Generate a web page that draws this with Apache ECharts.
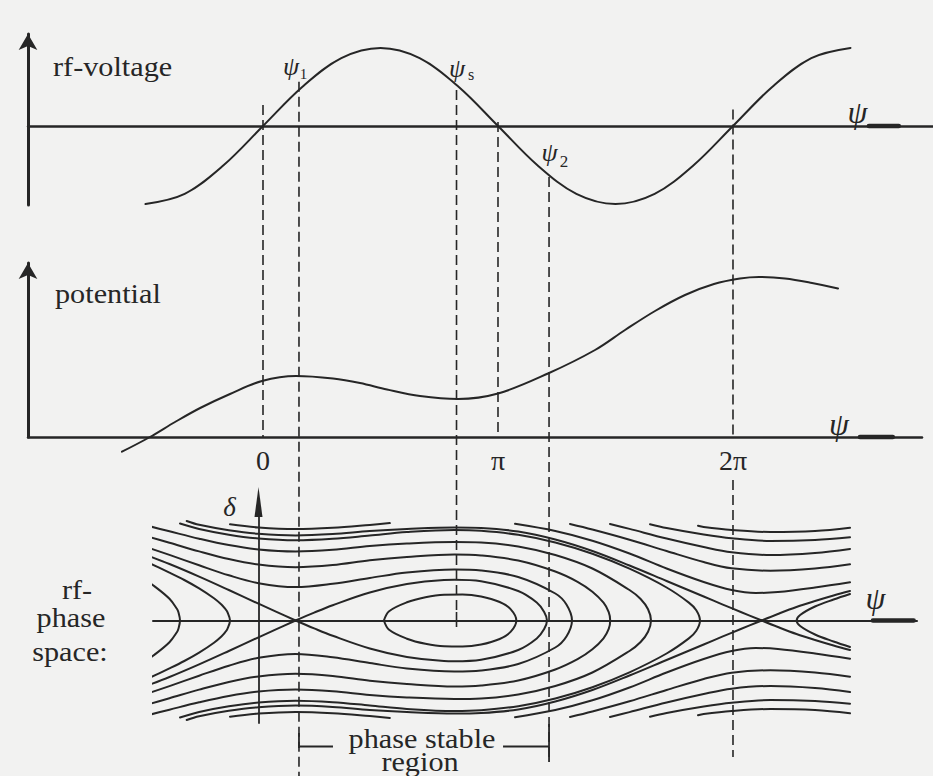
<!DOCTYPE html>
<html><head><meta charset="utf-8">
<script src="https://cdn.jsdelivr.net/npm/echarts@6/dist/echarts.min.js"></script>
<style>html,body{margin:0;padding:0;background:#f2f2f1;}#c{width:933px;height:776px;}</style>
</head><body><div id="c"></div>
<script>
// ---------------- data ----------------
// rf-voltage panel (psi in rad, voltage in units of the peak value)
const rfPsi  = [-1.571,-1.047,-0.524,0,0.524,1.047,1.571,2.094,2.618,3.142,3.665,4.189,4.712,5.236,5.760,6.283,6.807,7.330,7.854];
const rfVolt = [-1,-0.87,-0.5,0,0.5,0.87,1,0.87,0.5,0,-0.5,-0.87,-1,-0.87,-0.5,0,0.5,0.87,1];
// potential panel (arbitrary units)
const potPsi = [-1.885,-1.511,-1.176,-0.840,-0.441,-0.013,0.441,0.936,1.297,1.658,2.099,2.607,3.142,3.810,4.439,4.840,5.241,5.642,6.029,6.377,6.631,6.979,7.340,7.687];
const potVal = [-1.47,0.0,1.5,2.9,4.3,5.6,6.1,5.85,5.4,4.75,4.1,3.8,4.35,6.35,8.7,10.7,12.6,14.2,15.3,15.85,16.0,15.85,15.4,14.85];
// axis tick labels of the potential panel
const tickPsi = [0, 3.1416, 6.2832];
const tickLabels = ['0', 'π', '2π'];
// special phases marked by the dashed guide lines
const guidePsi = [0, 0.481, 2.587, 3.1416, 3.824, 6.2832]; // 0, psi1, psis, pi, psi2, 2pi

// rf-phase space trajectories [psi, delta] -- upper halves (lower halves are their mirror images)
const innerOrbit = [[1.69,0],[1.76,0.93],[2.0,1.82],[2.25,2.33],[2.5,2.58],[2.75,2.6],[3.0,2.4],[3.25,1.85],[3.4,1.12],[3.475,0]];
const sepLoop    = [[0.5,0],[0.75,0.79],[1.0,1.53],[1.5,2.8],[2.0,3.65],[2.5,4.05],[2.64,4.07],[3.0,3.92],[3.5,2.95],[3.75,1.8],[3.85,0.86],[3.888,0]];
const sepLeft    = [[-1.557,6.66],[-1.2,5.65],[-0.8,4.39],[-0.4,3.05],[0,1.68],[0.25,0.83],[0.5,0]];
const hookA      = [[-1.557,4.2],[-1.4,3.41],[-1.2,2.17],[-1.1,1.17],[-1.08,0.85],[-1.058,0]];
const hookB      = [[-1.557,6.05],[-1.2,4.79],[-1.0,4.05],[-0.8,3.21],[-0.6,2.22],[-0.5,1.59],[-0.45,1.18],[-0.42,0.87],[-0.384,0]];
const reflectE   = [[-1.557,7.45],[-1.2,6.56],[-0.8,5.52],[-0.4,4.52],[0,3.73],[0.5,3.34],[1.0,3.67],[1.5,4.25],[2.0,4.8],[2.64,5.1],[3.0,5.0],[3.5,4.35],[4.0,2.7],[4.15,1.6],[4.225,0]];
const reflectD   = [[-1.557,8.53],[-1.2,7.77],[-0.8,6.91],[-0.4,6.14],[0,5.59],[0.5,5.33],[1.0,5.54],[1.5,6.02],[2.0,6.35],[2.64,6.6],[3.0,6.5],[3.5,6.0],[4.0,4.9],[4.3,3.87],[4.5,2.88],[4.65,1.78],[4.72,0.84],[4.74,0]];
const reflectC   = [[-1.557,9.59],[-1.2,8.92],[-0.8,8.18],[-0.4,7.54],[0,7.1],[0.5,6.9],[1.0,7.07],[1.5,7.45],[2.0,7.7],[2.64,7.85],[3.0,7.8],[3.5,7.4],[4.0,6.55],[4.5,5.2],[5.0,3.05],[5.15,2.15],[5.25,1.12],[5.29,0]];
const reflectB   = [[-1.058,9.7],[-0.8,9.15],[-0.4,8.58],[0,8.2],[0.5,8.02],[1.0,8.17],[1.5,8.5],[2.0,8.84],[2.64,9.05],[3.0,8.97],[3.5,8.57],[4.0,7.8],[4.5,6.67],[5.0,5.18],[5.5,3.3],[5.8,1.79],[5.9,1.03],[5.95,0]];
const sepX2Left  = [[-0.968,9.95],[-0.8,9.57],[-0.4,9.03],[0,8.67],[0.5,8.5],[1.0,8.64],[1.5,8.95],[2.0,9.15],[2.64,9.3],[3.0,9.25],[3.5,8.9],[4.0,8.1],[4.5,6.95],[5.0,5.5],[5.5,3.95],[6.0,2.4],[6.25,1.62],[6.5,0.85],[6.783,0]];
const sepX2Right = [[6.783,0],[7.0,0.65],[7.25,1.35],[7.5,1.95],[7.75,2.5],[7.972,2.95]];
const hookRight  = [[7.972,2.65],[7.75,2.1],[7.5,1.4],[7.3,0.55],[7.253,0]];
const topArc     = [[-0.384,9.62],[0,9.3],[0.5,9.14],[1.0,9.27],[1.5,9.56],[1.77,9.74]];
const fan1 = [[3.457,9.67],[4.0,8.95],[4.5,7.98],[5.0,6.7],[5.5,5.2],[6.0,3.85],[6.377,3.05],[6.7,2.75],[7.0,2.85],[7.5,3.3],[7.972,3.82]];
const fan2 = [[4.198,9.65],[4.5,9.1],[5.0,8.08],[5.5,6.95],[6.0,5.85],[6.377,5.22],[6.9,4.98],[7.5,5.2],[7.972,5.62]];
const fan3 = [[4.737,9.65],[5.0,9.16],[5.5,8.2],[6.0,7.35],[6.377,6.82],[6.9,6.55],[7.5,6.75],[7.972,7.15]];
const fan4 = [[5.276,9.63],[5.5,9.25],[6.0,8.6],[6.377,8.22],[6.9,7.95],[7.5,8.05],[7.972,8.32]];
const fan5 = [[5.923,9.48],[6.0,9.35],[6.377,9.05],[6.9,8.85],[7.5,8.95],[7.972,9.28]];
// bold end pieces of the psi axes [from, to]
const rfAxisEnd = [8.10, 8.50];
const potAxisEnd = [7.98, 8.42];
const phaseAxisEnd = [8.28, 8.83];

// ---------------- chart ----------------
const INK = '#262626';
const FAMILY = 'Liberation Serif';
const mirror = pts => pts.map(p => [p[0], -p[1]]);
const fold = upper => upper.concat(mirror(upper).reverse().slice(1));

const loops = [innerOrbit, sepLoop, hookA, hookB, reflectE, reflectD, reflectC, reflectB, hookRight].map(fold);
const branches = [sepLeft, sepX2Left, sepX2Right, topArc, fan1, fan2, fan3, fan4, fan5];
const phaseLines = loops.concat(branches, branches.map(mirror));

function lineSeries(g, data, width, smooth) {
  return {type: 'line', xAxisIndex: g, yAxisIndex: g, data: data, symbol: 'none', showSymbol: false,
    smooth: smooth, clip: false, silent: true, animation: false,
    lineStyle: {color: INK, width: width, cap: 'round', join: 'round'}, z: 3};
}

const series = [];
series.push(lineSeries(0, rfPsi.map((p, i) => [p, rfVolt[i]]), 2, 0.35));
series.push(lineSeries(1, potPsi.map((p, i) => [p, potVal[i]]), 2, 0.35));
phaseLines.forEach(d => series.push(lineSeries(2, d, 2, 0.35)));
series.push(lineSeries(0, rfAxisEnd.map(p => [p, 0]), 4.5, 0));
series.push(lineSeries(1, potAxisEnd.map(p => [p, 0]), 4.5, 0));
series.push(lineSeries(2, phaseAxisEnd.map(p => [p, 0]), 4.5, 0));

const hidden = {axisTick: {show: false}, axisLabel: {show: false}, splitLine: {show: false}};
const option = {
  backgroundColor: '#f2f2f1',
  animation: false,
  textStyle: {fontFamily: FAMILY, color: INK},
  grid: [
    {left: 28, top: 34, width: 905, height: 171, outerBoundsMode: 'none'},
    {left: 28, top: 263, width: 894, height: 174, outerBoundsMode: 'none'},
    {left: 153, top: 502, width: 764, height: 221, outerBoundsMode: 'none'}
  ],
  xAxis: [
    Object.assign({type: 'value', gridIndex: 0, min: -3.1416, max: 8.957,
      axisLine: {onZero: true, lineStyle: {color: INK, width: 2.5}}}, hidden),
    {type: 'value', gridIndex: 1, min: -3.1416, max: 8.810, interval: 3.1416,
      axisLine: {lineStyle: {color: INK, width: 2.5}}, axisTick: {show: false}, splitLine: {show: false},
      axisLabel: {show: true, margin: 9, fontFamily: FAMILY, fontSize: 28, color: INK,
        showMinLabel: false, showMaxLabel: false,
        formatter: v => { const i = tickPsi.findIndex(t => Math.abs(t - v) < 0.01); return i >= 0 ? tickLabels[i] : ''; }}},
    Object.assign({type: 'value', gridIndex: 2, min: -1.4218, max: 8.8747,
      axisLine: {onZero: true, lineStyle: {color: INK, width: 2}}}, hidden)
  ],
  yAxis: [
    Object.assign({type: 'value', gridIndex: 0, min: -1.0128, max: 1.1795,
      axisLine: {show: true, onZero: false, symbol: ['none', 'arrow'], symbolSize: [14, 16], lineStyle: {color: INK, width: 3}}}, hidden),
    Object.assign({type: 'value', gridIndex: 1, min: 0, max: 17.4,
      axisLine: {show: true, onZero: false, symbol: ['none', 'arrow'], symbolSize: [14, 16], lineStyle: {color: INK, width: 3}}}, hidden),
    Object.assign({type: 'value', gridIndex: 2, min: -10.25, max: 11.85,
      axisLine: {show: true, onZero: true, symbol: ['none', 'triangle'], symbolSize: [8, 30], lineStyle: {color: INK, width: 1.8}}}, hidden)
  ],
  series: series
};

const chart = echarts.init(document.getElementById('c'), null, {renderer: 'svg', width: 933, height: 776});
chart.setOption(option);

// ---------------- guides & labels ----------------
const toPx = (g, x, y) => chart.convertToPixel({xAxisIndex: g, yAxisIndex: g}, [x, y]);
const gx = psi => toPx(0, psi, 0)[0];
const gy = (g, v) => toPx(g, 0, v)[1];
// [guide index, panel from, value from, panel to, value to]
const guideSegs = [
  [0, 0, 0.27, 1, 0],
  [1, 0, 0.568, 2, -15.6],
  [2, 0, 0.46, 2, 0.85],
  [3, 0, 0.05, 1, 0],
  [4, 0, -0.654, 2, -13.95],
  [5, 0, 0.21, 1, 0],
  [5, 2, 14.05, 2, -13.65]
];
const graphics = [];
const ln = (x1, y1, x2, y2, dash, w) => graphics.push({type: 'line', silent: true, z: 5,
  shape: {x1: x1, y1: y1, x2: x2, y2: y2},
  style: {stroke: INK, lineWidth: w || 1.6, lineDash: dash ? [10, 5] : null}});
guideSegs.forEach(s => { const x = gx(guidePsi[s[0]]); ln(x, gy(s[1], s[2]), x, gy(s[3], s[4]), true); });
// centre tick of the synchronous phase
ln(gx(guidePsi[2]), gy(2, 0.85), gx(guidePsi[2]), gy(2, -0.65), false, 1.6);
// "phase stable region" bracket between psi1 and psi2
const xa = gx(guidePsi[1]), xb = gx(guidePsi[4]);
ln(xa, 733, xa, 748, false, 1.8);
ln(xa, 746.5, xa + 34, 746.5, false, 1.8);
ln(xb - 46, 746.5, xb, 746.5, false, 1.8);
ln(xb, 724, xb, 762, false, 1.8);

const txt = (s, x, y, size, align, italic, sx) => graphics.push({type: 'text', silent: true, z: 6,
  x: x, y: y, scaleX: sx || 1,
  style: {text: s, x: 0, y: 0, fill: INK, fontFamily: FAMILY, fontSize: size,
    fontStyle: italic ? 'italic' : 'normal',
    textAlign: align, textVerticalAlign: 'middle', verticalAlign: 'middle'}});
txt('rf-voltage', 53, 67, 27, 'left', false, 1.12);
txt('potential', 55, 294, 27, 'left', false, 1.12);
txt('rf-', 77, 590, 27, 'center', false, 1.12);
txt('phase', 71, 618, 27, 'center', false, 1.12);
txt('space:', 70, 652, 27, 'center', false, 1.12);
txt('phase stable', 422, 739, 27, 'center', false, 1.12);
txt('region', 420, 762, 27, 'center', false, 1.12);
txt('ψ', 291, 66, 26, 'center', true);
txt('1', 303.5, 74, 15, 'center', false);
txt('ψ', 457, 68, 26, 'center', true);
txt('s', 471, 74, 16, 'center', false);
txt('ψ', 549.5, 152, 26, 'center', true);
txt('2', 564, 161, 17, 'center', false);
txt('ψ', 857.5, 112, 32, 'center', true);
txt('ψ', 839, 424, 32, 'center', true);
txt('ψ', 875.5, 598, 32, 'center', true);
txt('δ', 229.5, 507, 27, 'center', true);
chart.setOption({graphic: graphics});
</script>
</body></html>
